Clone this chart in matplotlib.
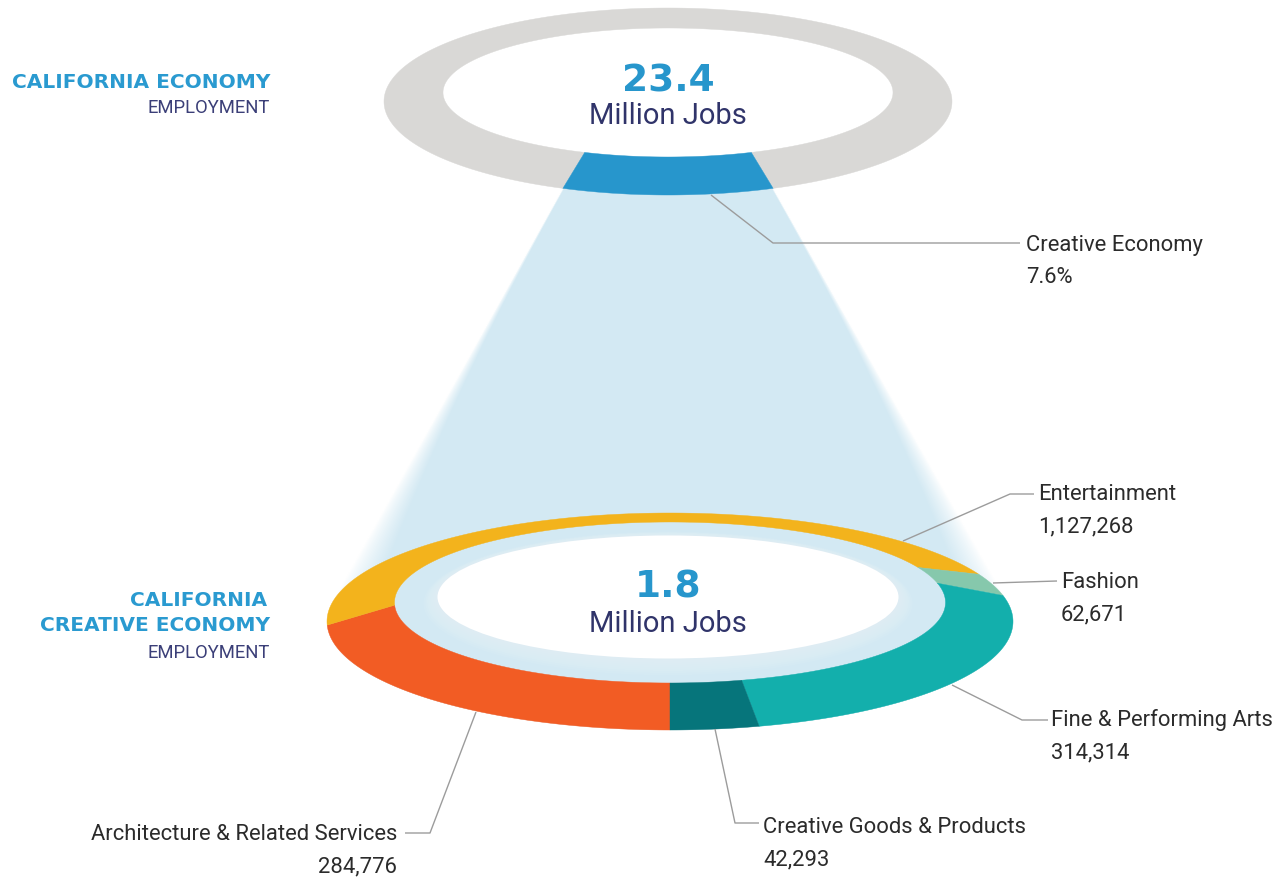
import numpy as np
import matplotlib
matplotlib.use("Agg")
import matplotlib.pyplot as plt
from matplotlib.patches import Polygon, Ellipse
from matplotlib.colors import to_rgb

# ---------------- data ----------------
state_jobs_value = "23.4"
jobs_unit = "Million Jobs"
creative_share_pct = 7.6
creative_jobs_value = "1.8"
sector_names = ["Architecture & Related Services", "Entertainment", "Fashion",
                "Fine & Performing Arts", "Creative Goods & Products"]
sector_jobs = [284776, 1127268, 62671, 314314, 42293]
sector_colors = ["#F25C24", "#F3B31C", "#86C8AC", "#13AFAC", "#06757B"]

# ---------------- styles / layout ----------------
W, H = 1281, 877
GREY = "#D9D8D6"
BLUE = "#2796CC"
CONE = "#D3E9F3"
NAVY = "#30346A"
TITLE = "#2A9AD0"
LABEL = "#2B2B2B"
LINE = "#9C9C9C"

TOP = dict(ocx=668, ocy=101.5, oa=284, ob=93.5, icx=668, icy=92.5, ia=225, ib=64.5, s=1.6)
BOT = dict(ocx=670, ocy=621.5, oa=343, ob=108.5, icx=670, icy=602.5, ia=275.5, ib=80.5, s=1.82)

fig = plt.figure(figsize=(W / 100, H / 100), dpi=100)
ax = fig.add_axes([0, 0, 1, 1])
ax.set_xlim(0, W)
ax.set_ylim(H, 0)
ax.axis("off")


def warp(deg, s):
    """perspective-like warp of ring angle (0 = front/bottom, clockwise)."""
    d = np.radians(deg)
    return 2 * np.arctan2(s * np.sin(d / 2), np.cos(d / 2))


def pt(cx, cy, a, b, psi):
    return cx - a * np.sin(psi), cy + b * np.cos(psi)


def ring_seg(R, d0, d1, n=300):
    psi = warp(np.linspace(d0, d1, n), R["s"])
    ox, oy = pt(R["ocx"], R["ocy"], R["oa"], R["ob"], psi)
    ix, iy = pt(R["icx"], R["icy"], R["ia"], R["ib"], psi)
    return np.column_stack([np.r_[ox, ix[::-1]], np.r_[oy, iy[::-1]]])


# ---------------- top ring (California economy) ----------------
half = 360 * creative_share_pct / 100 / 2
ax.add_patch(Polygon(ring_seg(TOP, half, 360 - half), closed=True, fc=GREY, ec=GREY, lw=0.3, zorder=3))
ax.add_patch(Polygon(ring_seg(TOP, -half, half), closed=True, fc=BLUE, ec=BLUE, lw=0.3, zorder=3))

# ---------------- cone ----------------
psiL, psiR = warp(half, TOP["s"]), warp(-half, TOP["s"])
PL = np.array(pt(TOP["ocx"], TOP["ocy"], TOP["oa"], TOP["ob"], psiL))
PR = np.array(pt(TOP["ocx"], TOP["ocy"], TOP["oa"], TOP["ob"], psiR))
t = np.linspace(-np.pi, np.pi, 6000)
ex, ey = pt(BOT["ocx"], BOT["ocy"], BOT["oa"], BOT["ob"], t)
tL = t[np.argmin((ex - PL[0]) / (ey - PL[1]))]
tR = t[np.argmax((ex - PR[0]) / (ey - PR[1]))]
TLp = np.array(pt(BOT["ocx"], BOT["ocy"], BOT["oa"], BOT["ob"], tL))
TRp = np.array(pt(BOT["ocx"], BOT["ocy"], BOT["oa"], BOT["ob"], tR))

top_arc = np.column_stack(pt(TOP["ocx"], TOP["ocy"], TOP["oa"], TOP["ob"], np.linspace(psiL, psiR, 120)))
bot_arc = np.column_stack(pt(BOT["ocx"], BOT["ocy"], BOT["oa"], BOT["ob"], np.linspace(tR, tL + 2 * np.pi * (tL < tR), 400)))
cone = Polygon(np.vstack([top_arc, bot_arc]), closed=True, fc="none", ec="none", transform=ax.transData)
ax.add_patch(cone)

yy, xx = np.mgrid[0:H, 0:W] + 0.5


def line_dist(P, Q):
    d = Q - P
    n = np.array([-d[1], d[0]]) / np.hypot(*d)
    return np.abs((xx - P[0]) * n[0] + (yy - P[1]) * n[1])


dist = np.minimum(line_dist(PL, TLp), line_dist(PR, TRp))
frac = np.clip((yy - PL[1]) / (TLp[1] - PL[1]), 0, 1)
width = 1.5 + 34 * frac ** 2.0
alpha = np.clip(dist / width, 0, 1) ** 0.8
rgba = np.zeros((H, W, 4))
rgba[..., :3] = to_rgb(CONE)
rgba[..., 3] = alpha
im = ax.imshow(rgba, extent=(0, W, H, 0), origin="upper", interpolation="bilinear", zorder=1)
im.set_clip_path(cone)
ax.set_xlim(0, W)
ax.set_ylim(H, 0)

# ---------------- bottom ring (creative economy) ----------------
total = sum(sector_jobs)
start = 0.0
for v, c in zip(sector_jobs, sector_colors):
    span = 360.0 * v / total
    ax.add_patch(Polygon(ring_seg(BOT, start, start + span), closed=True, fc=c, ec=c, lw=0.3, zorder=3))
    start += span

# white centre with soft glow
for k in range(8, 0, -1):
    ax.add_patch(Ellipse((668, 597 + 0.8 * k), 461 + 3.5 * k, 123 + 2.6 * k, fc="white", ec="none", alpha=0.05, zorder=2))
ax.add_patch(Ellipse((668, 597), 461, 123, fc="white", ec="none", zorder=2))

# ---------------- centre numbers ----------------
ax.text(668, 92, state_jobs_value, ha="center", va="baseline", fontsize=27, weight="bold", family="DejaVu Sans", color=BLUE, zorder=5)
ax.text(668, 124, jobs_unit, ha="center", va="baseline", fontsize=21, family="Roboto", color=NAVY, zorder=5)
ax.text(668, 598, creative_jobs_value, ha="center", va="baseline", fontsize=27, weight="bold", family="DejaVu Sans", color=BLUE, zorder=5)
ax.text(668, 632, jobs_unit, ha="center", va="baseline", fontsize=21, family="Roboto", color=NAVY, zorder=5)

# ---------------- side titles ----------------
tk = dict(ha="right", va="baseline", fontsize=14.5, weight="bold", family="DejaVu Sans", color=TITLE)
ek = dict(ha="right", va="baseline", fontsize=13.3, family="Roboto", color="#3B3F78")
ax.text(270, 88, "CALIFORNIA ECONOMY", **tk)
ax.text(270, 113, "EMPLOYMENT", **ek)
ax.text(267, 606, "CALIFORNIA", **tk)
ax.text(270, 631, "CREATIVE ECONOMY", **tk)
ax.text(270, 658, "EMPLOYMENT", **ek)

# ---------------- labels & leaders ----------------
lk = dict(va="baseline", fontsize=15.8, family="Roboto", color=LABEL, zorder=6)


def leader(xs, ys):
    ax.plot(xs, ys, color=LINE, lw=1.0, zorder=6, solid_capstyle="butt")


leader([711, 773, 1020], [195, 243, 243])
ax.text(1026, 251, "Creative Economy", ha="left", **lk)
ax.text(1026, 283, f"{creative_share_pct}%", ha="left", **lk)

label_pos = {
    "Entertainment": dict(x=1038, y=500, ha="left", line=([903, 1010, 1034], [541, 494, 494])),
    "Fashion": dict(x=1061, y=588, ha="left", line=([993, 1057], [583, 581])),
    "Fine & Performing Arts": dict(x=1051, y=726, ha="left", line=([952, 1022, 1048], [685, 720, 720])),
    "Creative Goods & Products": dict(x=763, y=833, ha="left", line=([715, 735, 759], [729, 823, 823])),
    "Architecture & Related Services": dict(x=397, y=840, ha="right", line=([476, 430, 405], [712, 833, 833])),
}
for name, v in zip(sector_names, sector_jobs):
    p = label_pos[name]
    leader(*p["line"])
    ax.text(p["x"], p["y"], name, ha=p["ha"], **lk)
    ax.text(p["x"], p["y"] + 32, f"{v:,}", ha=p["ha"], **lk)

fig.savefig("out.png", dpi=100)
